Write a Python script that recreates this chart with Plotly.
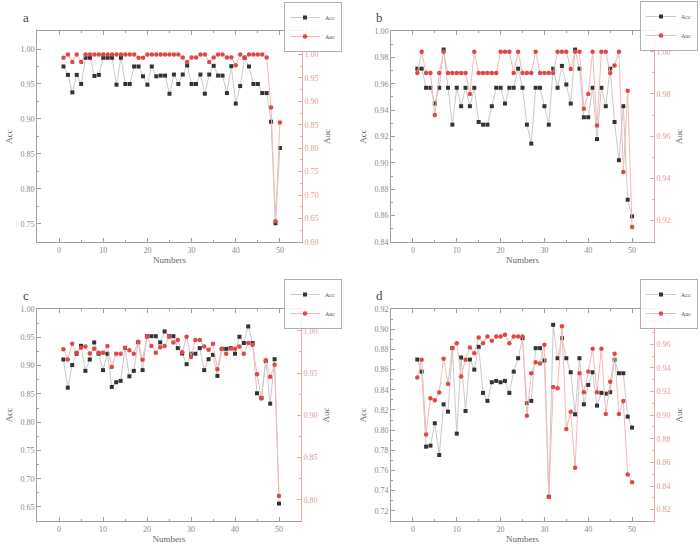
import plotly.graph_objects as go

numbers = list(range(1, 51))

a_acc = [0.975, 0.963, 0.938, 0.963, 0.950, 0.9875, 0.9875, 0.9615, 0.963, 0.9875,
         0.9875, 0.9875, 0.949, 0.9875, 0.950, 0.950, 0.975, 0.975, 0.961, 0.949,
         0.975, 0.961, 0.962, 0.962, 0.936, 0.9635, 0.950, 0.9635, 0.9765, 0.950,
         0.950, 0.9635, 0.936, 0.9635, 0.976, 0.962, 0.962, 0.937, 0.9755, 0.922,
         0.947, 0.9875, 0.975, 0.950, 0.950, 0.937, 0.937, 0.896, 0.7507, 0.8584]
a_auc = [0.993, 1.0, 0.984, 1.0, 0.984, 1.0, 1.0, 1.0, 1.0, 1.0,
         1.0, 1.0, 1.0, 1.0, 1.0, 1.0, 1.0, 0.993, 0.993, 1.0,
         1.0, 1.0, 1.0, 1.0, 1.0, 1.0, 1.0, 0.9935, 0.984, 0.9935,
         0.9935, 1.0, 1.0, 0.984, 0.9935, 1.0, 1.0, 0.9935, 0.9935, 0.977,
         1.0, 0.9935, 1.0, 1.0, 1.0, 1.0, 0.9935, 0.887, 0.644, 0.855]

b_acc = [0.9715, 0.9715, 0.957, 0.957, 0.945, 0.957, 0.986, 0.957, 0.929, 0.957,
         0.943, 0.957, 0.943, 0.957, 0.931, 0.929, 0.929, 0.943, 0.957, 0.957,
         0.945, 0.957, 0.957, 0.9715, 0.957, 0.929, 0.9146, 0.957, 0.957, 0.943,
         0.929, 0.9715, 0.957, 0.9736, 0.9595, 0.945, 0.986, 0.9715, 0.9346, 0.9346,
         0.957, 0.918, 0.957, 0.943, 0.9715, 0.931, 0.902, 0.943, 0.872, 0.8594]
b_auc = [0.990, 1.0, 0.990, 0.990, 0.970, 0.990, 1.0, 0.990, 0.990, 0.990,
         0.990, 0.990, 0.980, 1.0, 0.990, 0.990, 0.990, 0.990, 0.990, 1.0,
         1.0, 1.0, 0.990, 1.0, 0.990, 0.990, 0.990, 1.0, 0.990, 0.990,
         0.990, 0.990, 1.0, 1.0, 1.0, 0.9918, 1.0, 1.0, 0.973, 0.980,
         1.0, 0.965, 1.0, 1.0, 0.990, 0.9935, 1.0, 0.943, 0.9815, 0.9168]

c_acc = [0.9108, 0.861, 0.901, 0.921, 0.935, 0.8907, 0.9108, 0.941, 0.921, 0.892,
         0.921, 0.8623, 0.8706, 0.873, 0.931, 0.881, 0.8907, 0.941, 0.892, 0.952,
         0.952, 0.952, 0.941, 0.9604, 0.952, 0.952, 0.931, 0.9214, 0.9025, 0.921,
         0.921, 0.931, 0.892, 0.9113, 0.919, 0.8818, 0.9296, 0.9296, 0.931, 0.921,
         0.951, 0.940, 0.9693, 0.940, 0.851, 0.843, 0.908, 0.8327, 0.9113, 0.656]
c_auc = [0.978, 0.966, 0.9846, 0.974, 0.980, 0.9814, 0.973, 0.9787, 0.974, 0.974,
         0.982, 0.957, 0.9727, 0.9727, 0.980, 0.977, 0.9727, 0.987, 0.9656, 0.993,
         0.982, 0.974, 0.9806, 0.982, 0.993, 0.986, 0.989, 0.9747, 0.9929, 0.9688,
         0.989, 0.989, 0.9814, 0.9775, 0.9846, 0.9545, 0.9787, 0.9727, 0.979, 0.9787,
         0.9814, 0.9727, 0.9854, 0.9834, 0.9486, 0.920, 0.965, 0.9455, 0.9597, 0.8047]

d_acc = [0.870, 0.858, 0.7836, 0.7846, 0.8068, 0.7753, 0.8256, 0.8183, 0.8813, 0.7965,
         0.872, 0.819, 0.870, 0.860, 0.8826, 0.8369, 0.829, 0.8475, 0.8488, 0.8475,
         0.8488, 0.8369, 0.858, 0.8713, 0.8912, 0.8267, 0.829, 0.8813, 0.8813, 0.869,
         0.734, 0.9044, 0.8713, 0.8912, 0.8713, 0.8574, 0.8157, 0.8713, 0.8256, 0.8448,
         0.8574, 0.8243, 0.8369, 0.8362, 0.8376, 0.8697, 0.8564, 0.8564, 0.8134, 0.8025]
d_auc = [0.9318, 0.9469, 0.8837, 0.9143, 0.9126, 0.9191, 0.9477, 0.9265, 0.9568, 0.961,
         0.9327, 0.9469, 0.9573, 0.9525, 0.9658, 0.961, 0.9667, 0.963, 0.9667, 0.9667,
         0.968, 0.961, 0.9667, 0.9667, 0.9667, 0.8995, 0.9355, 0.9449, 0.9437, 0.9596,
         0.8307, 0.9239, 0.9228, 0.9752, 0.8882, 0.903, 0.8554, 0.9355, 0.9194, 0.937,
         0.9562, 0.9194, 0.9562, 0.901, 0.9284, 0.952, 0.901, 0.912, 0.8497, 0.8432]

panel_labels = ["a", "b", "c", "d"]
x_ticks = [0, 10, 20, 30, 40, 50]
a_left_ticks = [0.75, 0.80, 0.85, 0.90, 0.95, 1.00]
a_right_ticks = [0.60, 0.65, 0.70, 0.75, 0.80, 0.85, 0.90, 0.95, 1.00, 1.05]
b_left_ticks = [0.84, 0.86, 0.88, 0.90, 0.92, 0.94, 0.96, 0.98, 1.00]
b_right_ticks = [0.92, 0.94, 0.96, 0.98, 1.00]
c_left_ticks = [0.65, 0.70, 0.75, 0.80, 0.85, 0.90, 0.95, 1.00]
c_right_ticks = [0.80, 0.85, 0.90, 0.95, 1.00]
d_left_ticks = [0.72, 0.74, 0.76, 0.78, 0.80, 0.82, 0.84, 0.86, 0.88, 0.90, 0.92]
d_right_ticks = [0.82, 0.84, 0.86, 0.88, 0.90, 0.92, 0.94, 0.96, 0.98]

W, H = 700, 555
FONT = "Liberation Serif"
ACC_MARK = "#333333"
AUC_MARK = "#e04848"
ACC_LINE = "#cacaca"
AUC_LINE = "#f4b8b8"
AX_COL = "#a0a0a0"
RAX_COL = "#eea8a8"
TICK_TXT = "#8a8a8a"
RTICK_TXT = "#e69a9a"

panels = [
    dict(acc=a_acc, auc=a_auc, px=(37, 302), py=(31, 242), lr=[0.7239, 1.0258], rr=[0.5999, 1.0501],
         lt=a_left_ticks, rt=a_right_ticks, lminor=0.025, rminor=0.025, leg=(342, 2)),
    dict(acc=b_acc, auc=b_auc, px=(391, 654), py=(31, 242), lr=[0.8399, 1.0001], rr=[0.9097, 1.0099],
         lt=b_left_ticks, rt=b_right_ticks, lminor=0.01, rminor=0.01, leg=(698, 1)),
    dict(acc=c_acc, auc=c_auc, px=(37, 301), py=(309, 521), lr=[0.6252, 1.0001], rr=[0.775, 1.0257],
         lt=c_left_ticks, rt=c_right_ticks, lminor=0.025, rminor=0.025, leg=(342, 279)),
    dict(acc=d_acc, auc=d_auc, px=(391, 654), py=(309, 521), lr=[0.7099, 0.9201], rr=[0.8104, 0.9899],
         lt=d_left_ticks, rt=d_right_ticks, lminor=0.01, rminor=0.01, leg=(698, 279)),
]

fig = go.Figure()
layout = dict(width=W, height=H, margin=dict(l=0, r=0, t=0, b=0, autoexpand=False),
              paper_bgcolor="white", plot_bgcolor="white",
              font=dict(family=FONT, size=8, color=TICK_TXT), annotations=[])

for i, p in enumerate(panels):
    k = i + 1
    xname = "x" if k == 1 else f"x{k}"
    yl = 2 * k - 1
    yr = 2 * k
    ylname = "y" if yl == 1 else f"y{yl}"
    yrname = f"y{yr}"
    legname = "legend" if k == 1 else f"legend{k}"

    fig.add_trace(go.Scatter(x=numbers, y=p["acc"], name="Acc", mode="lines+markers",
                             xaxis=xname, yaxis=ylname, legend=legname,
                             line=dict(color=ACC_LINE, width=1),
                             marker=dict(symbol="square", size=4, color=ACC_MARK)))
    fig.add_trace(go.Scatter(x=numbers, y=p["auc"], name="Auc", mode="lines+markers",
                             xaxis=xname, yaxis=yrname, legend=legname,
                             line=dict(color=AUC_LINE, width=1),
                             marker=dict(symbol="circle", size=4.5, color=AUC_MARK)))

    xd = [p["px"][0] / W, p["px"][1] / W]
    yd = [1 - p["py"][1] / H, 1 - p["py"][0] / H]
    xk = "xaxis" if k == 1 else f"xaxis{k}"
    ylk = "yaxis" if yl == 1 else f"yaxis{yl}"
    yrk = f"yaxis{yr}"

    layout[xk] = dict(domain=xd, anchor=ylname, range=[-5, 55], tickvals=x_ticks,
                      showline=True, linecolor=AX_COL, linewidth=1, mirror="ticks",
                      ticks="inside", ticklen=4, tickcolor=AX_COL, showgrid=False, zeroline=False,
                      minor=dict(dtick=5, tick0=0, ticks="inside", ticklen=2, tickcolor=AX_COL),
                      tickfont=dict(family=FONT, size=8, color=TICK_TXT), automargin=False,
                      title=dict(text="Numbers", font=dict(family=FONT, size=9, color="#666"), standoff=3))
    layout[ylk] = dict(domain=yd, anchor=xname, range=p["lr"], tickvals=p["lt"], tickformat=".2f",
                       showline=True, linecolor=AX_COL, linewidth=1, automargin=False,
                       ticks="inside", ticklen=4, tickcolor=AX_COL, showgrid=False, zeroline=False,
                       minor=dict(dtick=p["lminor"], tick0=0, ticks="inside", ticklen=2, tickcolor=AX_COL),
                       tickfont=dict(family=FONT, size=8, color=TICK_TXT),
                       title=dict(text="Acc", font=dict(family=FONT, size=9, color="#666"), standoff=6))
    layout[yrk] = dict(domain=yd, anchor=xname, overlaying=ylname, side="right",
                       range=p["rr"], tickvals=p["rt"], tickformat=".2f", automargin=False,
                       showline=True, linecolor=RAX_COL, linewidth=1,
                       ticks="inside", ticklen=4, tickcolor=RAX_COL, showgrid=False, zeroline=False,
                       minor=dict(dtick=p["rminor"], tick0=0, ticks="inside", ticklen=2, tickcolor=RAX_COL),
                       tickfont=dict(family=FONT, size=8, color=RTICK_TXT),
                       title=dict(text="Auc", font=dict(family=FONT, size=9, color="#666"), standoff=6))
    layout[legname] = dict(x=p["leg"][0] / W, y=1 - p["leg"][1] / H, xanchor="right", yanchor="top",
                           bgcolor="rgba(255,255,255,0.85)", bordercolor="#b0b0b0", borderwidth=1,
                           font=dict(family=FONT, size=6, color="#555"), itemwidth=30,
                           tracegroupgap=0)
    layout["annotations"].append(dict(text=panel_labels[i], xref="paper", yref="paper",
                                      x=(p["px"][0] - 11) / W, y=1 - (p["py"][0] - 14) / H,
                                      xanchor="center", yanchor="middle", showarrow=False,
                                      font=dict(family=FONT, size=13, color="#444")))

fig.update_layout(**layout)
fig.write_html("out.html", config={"displayModeBar": False},
               post_script="document.body.style.margin='0px';document.body.style.padding='0px';")
